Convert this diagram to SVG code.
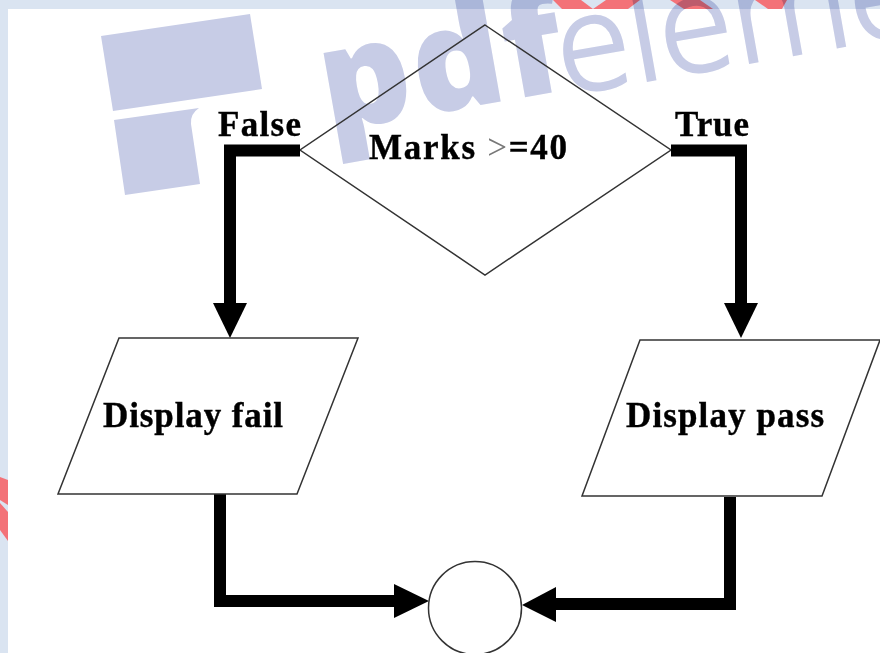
<svg xmlns="http://www.w3.org/2000/svg" width="880" height="653" viewBox="0 0 880 653">
<style>
.shape{fill:none;stroke:#333;stroke-width:1.5}
.wire{fill:none;stroke:#000;stroke-width:12}
.head{fill:#000}
.label{font-family:"Liberation Serif",serif;font-weight:bold;font-size:35px;fill:#000;stroke:#000;stroke-width:.4}
.thin{font-weight:normal;fill:#777;stroke:none}
.wm{fill:#c7cce6;mix-blend-mode:multiply}
.red{fill:#f37278}
</style>
<rect width="880" height="653" fill="#dae4f1"/>
<rect x="8" y="9" width="872" height="644" fill="#fff"/>
<g id="watermark">
<path class="red" d="M0 477L8 480V505L0 500Z"/>
<path class="red" d="M0 503L8 512V541L0 530Z"/>
<path class="red" d="M553 0H581L593 9H562Z"/>
<path class="red" d="M606 0H640L628 9H593Z"/>
<path class="red" d="M670 0H700L713 9H684Z"/>
<path class="red" d="M755 0H787L782 9H768Z"/>
<path class="wm" d="M101 36 L250 14 L262 89 L113 111Z"/>
<path class="wm" d="M114 120 L199 108 Q190 114 191 124 L200 184 L125 195Z"/>
<text class="wm" transform="translate(328 132) rotate(-10)" font-family="'Open Sans',sans-serif" font-size="142" font-weight="800" letter-spacing="2">pdf</text>
<text class="wm" transform="translate(564 95) rotate(-10)" font-family="'Open Sans',sans-serif" font-size="134" font-weight="300" stroke="#c7cce6" stroke-width="3">element</text>
</g>
<g id="diamond"><polygon class="shape" points="485,25 671,150 485,275 300,150"/></g>
<g id="connectors">
<path class="wire" d="M300 150.500H230V310"/>
<path class="wire" d="M671 150.500H741V310"/>
<path class="wire" d="M220 494V601H400"/>
<path class="wire" d="M730 497V604H550"/>
<polygon class="head" points="213,303 247,303 230,338"/>
<polygon class="head" points="724,303 758,303 741,338"/>
<polygon class="head" points="394,584 394,618 429,601"/>
<polygon class="head" points="556,587 556,622 522,605"/>
</g>
<g id="fail"><polygon class="shape" points="119,338 358,338 297,494 58,494"/><text class="label" x="103" y="427" textLength="180">Display fail</text></g>
<g id="pass"><polygon class="shape" points="640,340 880,340 822,496 582,496"/><text class="label" x="626" y="427" textLength="198">Display pass</text></g>
<g id="end"><circle class="shape" cx="475" cy="608" r="46.500"/></g>
<text class="label" x="369" y="159" textLength="198">Marks <tspan class="thin">&gt;</tspan>=40</text>
<text class="label" x="218" y="136" textLength="83">False</text>
<text class="label" x="675" y="136" textLength="74">True</text>
</svg>
